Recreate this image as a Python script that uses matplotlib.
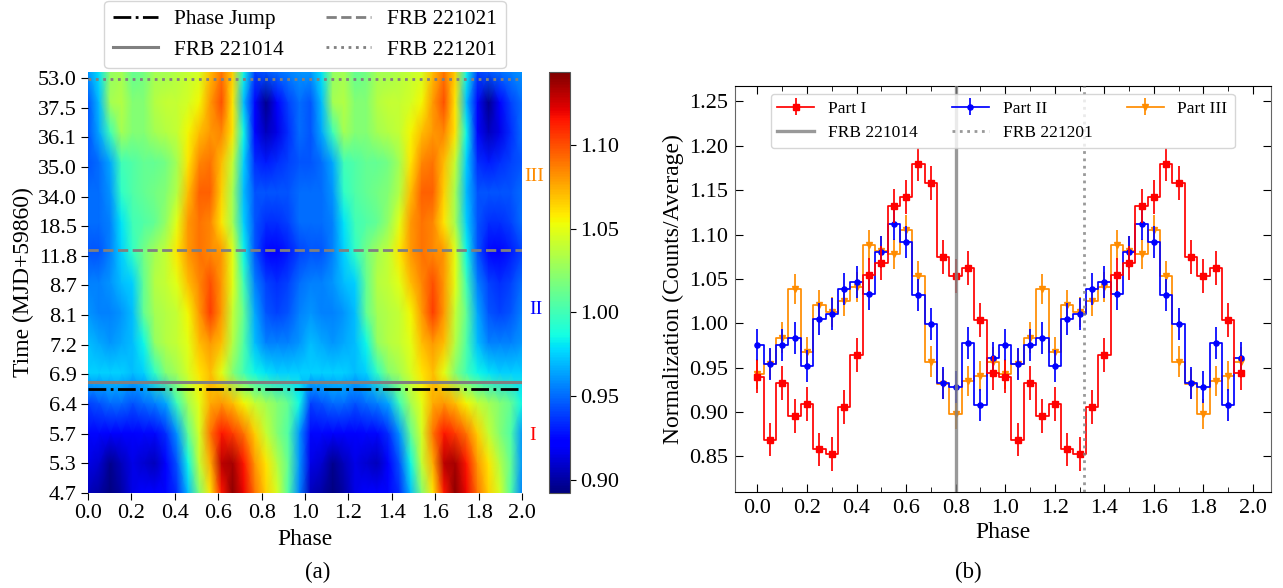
import numpy as np
import matplotlib
matplotlib.use('Agg')
import matplotlib.pyplot as plt

plt.rcParams['font.family'] = ['Liberation Serif', 'DejaVu Serif']

# Panel (a): one phase cycle per row, bottom row first
row_47 = [.905, .900, .892, .900, .915, .920, .920, .925, .935, .970, 1.020, 1.060, 1.115, 1.140, 1.120, 1.090, 1.065, 1.045, 1.005, .955]
row_53 = [.915, .910, .895, .905, .915, .910, .905, .920, .945, .985, 1.040, 1.075, 1.130, 1.135, 1.115, 1.080, 1.060, 1.035, 1.010, .960]
row_57 = [.925, .925, .920, .920, .920, .925, .925, .935, .960, 1.010, 1.045, 1.090, 1.115, 1.105, 1.090, 1.065, 1.040, 1.020, 1.005, .960]
row_64 = [.940, .945, .950, .950, .945, .950, .955, .965, 1.000, 1.030, 1.050, 1.075, 1.080, 1.070, 1.055, 1.040, 1.030, 1.020, 1.010, .985]
row_69 = [.975, .975, .975, .975, .970, .975, .995, 1.020, 1.030, 1.045, 1.060, 1.070, 1.050, 1.020, 1.000, .985, .980, .975, .975, .975]
row_72 = [.970, .965, .960, .965, .970, .985, 1.025, 1.035, 1.040, 1.050, 1.070, 1.080, 1.070, 1.035, 1.005, .970, .955, .955, .955, .960]
row_81 = [.960, .955, .955, .960, .970, 1.010, 1.030, 1.035, 1.040, 1.055, 1.080, 1.105, 1.080, 1.040, 1.010, .965, .945, .940, .945, .955]
row_87 = [.955, .955, .960, .970, .975, 1.010, 1.035, 1.040, 1.050, 1.070, 1.085, 1.100, 1.080, 1.050, 1.000, .955, .940, .935, .940, .950]
row_118 = [.945, .945, .955, .975, .995, 1.015, 1.030, 1.040, 1.060, 1.080, 1.090, 1.085, 1.080, 1.050, .985, .945, .925, .920, .930, .940]
row_185 = [.950, .950, .955, .980, 1.000, 1.005, 1.010, 1.025, 1.050, 1.080, 1.090, 1.085, 1.060, 1.030, .975, .945, .935, .935, .940, .950]
row_340 = [.950, .950, .960, .995, 1.005, 1.010, 1.015, 1.020, 1.035, 1.070, 1.095, 1.095, 1.065, 1.030, .970, .945, .945, .945, .945, .950]
row_350 = [.945, .950, .965, 1.000, 1.005, 1.010, 1.010, 1.015, 1.030, 1.060, 1.085, 1.090, 1.070, 1.040, .975, .935, .930, .935, .940, .945]
row_361 = [.945, .965, 1.000, 1.030, 1.020, 1.020, 1.030, 1.035, 1.040, 1.055, 1.070, 1.080, 1.085, 1.060, .985, .925, .905, .915, .935, .950]
row_375 = [.945, .970, 1.030, 1.035, 1.020, 1.020, 1.035, 1.040, 1.040, 1.045, 1.055, 1.080, 1.100, 1.060, .970, .925, .895, .920, .940, .950]
row_530 = [.960, .980, 1.025, 1.030, 1.010, 1.015, 1.030, 1.030, 1.035, 1.040, 1.045, 1.070, 1.090, 1.065, .985, .940, .945, .950, .955, .960]
time_labels = ['4.7', '5.3', '5.7', '6.4', '6.9', '7.2', '8.1', '8.7', '11.8',
               '18.5', '34.0', '35.0', '36.1', '37.5', '53.0']

# Panel (b): folded profiles, phase bins 0.00 to 0.95
phase = [0.00, 0.05, 0.10, 0.15, 0.20, 0.25, 0.30, 0.35, 0.40, 0.45,
         0.50, 0.55, 0.60, 0.65, 0.70, 0.75, 0.80, 0.85, 0.90, 0.95]
part1 = [.940, .869, .933, .896, .909, .858, .853, .906, .964, 1.055,
         1.068, 1.132, 1.142, 1.179, 1.158, 1.075, 1.053, 1.062, 1.004, .944]
part2 = [.976, .9545, .9756, .984, .952, 1.005, 1.011, 1.039, 1.047, 1.033,
         1.080, 1.112, 1.092, 1.032, .999, .933, .928, .978, .908, .961]
part3 = [.943, .954, .984, 1.039, .968, 1.021, 1.013, 1.025, 1.041, 1.088,
         1.081, 1.078, 1.105, 1.053, .957, .932, .898, .935, .941, .956]
err1 = 0.019
err2 = 0.018
err3 = 0.017

W, H = 1283, 588


def px_axes(x0, y0, x1, y1):
    # pixel box with y counted from the top of the image
    return fig.add_axes([x0 / W, 1 - y1 / H, (x1 - x0) / W, (y1 - y0) / H])


fig = plt.figure(figsize=(W / 100, H / 100), dpi=100)

# ----- panel (a)
ax1 = px_axes(88, 72, 522, 493)
cax = px_axes(549, 72, 570, 493)

cycle = np.array([row_47, row_53, row_57, row_64, row_69, row_72, row_81, row_87,
                  row_118, row_185, row_340, row_350, row_361, row_375, row_530])
heat = np.hstack([cycle, cycle])
ytop = 14.2
xx = np.linspace(0, 2, heat.shape[1])
yy = np.linspace(0, ytop, heat.shape[0])
mesh = ax1.pcolormesh(xx, yy, heat, cmap='jet', vmin=0.892, vmax=1.1436, shading='gouraud')

ax1.axhline(3.51, color='k', ls='-.', lw=2, label='Phase Jump')
ax1.axhline(3.75, color='gray', ls='-', lw=2.2, label='FRB 221014')
ax1.axhline(8.21, color='gray', ls='--', lw=2, label='FRB 221021')
ax1.axhline(13.98, color='gray', ls=':', lw=2, label='FRB 221201')

ax1.set_xlim(0, 2)
ax1.set_ylim(0, ytop)
ax1.set_xticks(np.arange(0, 2.01, 0.2))
ax1.set_yticks(range(len(time_labels)))
ax1.set_yticklabels(time_labels)
ax1.tick_params(labelsize=16, length=5, pad=3)
ax1.set_xlabel('Phase', fontsize=17, labelpad=4)
ax1.set_ylabel('Time (MJD+59860)', fontsize=17, labelpad=3)
for s in ax1.spines.values():
    s.set_visible(False)

fig.legend(*ax1.get_legend_handles_labels(), loc='center', ncol=2, fontsize=15.4,
           bbox_to_anchor=(305 / W, 1 - 34.5 / H), columnspacing=2.0, handlelength=2.1,
           handletextpad=0.75)

cbar = fig.colorbar(mesh, cax=cax)
cbar.set_ticks([0.90, 0.95, 1.00, 1.05, 1.10])
cbar.ax.set_yticklabels(['0.90', '0.95', '1.00', '1.05', '1.10'])
cbar.ax.tick_params(labelsize=16, length=4, pad=3)
cbar.outline.set_edgecolor('#555555')

fig.text(534 / W, 1 - 177 / H, 'III', color='darkorange', fontsize=14, ha='center', va='center')
fig.text(536 / W, 1 - 310 / H, 'II', color='blue', fontsize=14, ha='center', va='center')
fig.text(533 / W, 1 - 435 / H, 'I', color='red', fontsize=14, ha='center', va='center')

# ----- panel (b)
ax2 = px_axes(735, 85.5, 1270.5, 492)
x2 = np.concatenate([phase, np.array(phase) + 1])

ax2.errorbar(x2, part1 * 2, yerr=err1, fmt='-', drawstyle='steps-mid', color='red', marker='s',
             ms=4, lw=1.25, elinewidth=1.25, label='Part I', zorder=5)
ax2.errorbar(x2, part2 * 2, yerr=err2, fmt='-', drawstyle='steps-mid', color='blue', marker='o',
             ms=3.7, lw=1.25, elinewidth=1.25, label='Part II', zorder=4)
ax2.errorbar(x2, part3 * 2, yerr=err3, fmt='-', drawstyle='steps-mid', color='darkorange', marker='v',
             ms=3.7, lw=1.25, elinewidth=1.25, label='Part III', zorder=3)
ax2.axvline(0.80, color='gray', ls='-', lw=2.4, alpha=0.8, label='FRB 221014', zorder=6)
ax2.axvline(1.317, color='gray', ls=':', lw=2, alpha=0.8, label='FRB 221201', zorder=6)

ax2.set_xlim(-0.0905, 2.0705)
ax2.set_ylim(0.81, 1.268)
ax2.set_xticks(np.arange(0, 2.01, 0.2))
ax2.set_xticks(np.arange(0, 2.01, 0.1), minor=True)
ax2.set_yticks(np.arange(0.85, 1.251, 0.05))
ax2.tick_params(which='both', direction='in', top=True, right=True, labelsize=16, pad=5)
ax2.tick_params(which='major', length=6)
ax2.tick_params(which='minor', length=3.5)
ax2.set_xlabel('Phase', fontsize=17, labelpad=3)
ax2.set_ylabel('Normalization (Counts/Average)', fontsize=17, labelpad=4)
ax2.spines['left'].set_color('#666666')
ax2.spines['right'].set_color('#666666')

h, l = ax2.get_legend_handles_labels()
order = [l.index(n) for n in ['Part I', 'FRB 221014', 'Part II', 'FRB 221201', 'Part III']]
leg = ax2.legend([h[i] for i in order], [l[i] for i in order], ncol=3, fontsize=12.5,
                 loc='center', bbox_to_anchor=((1002.5 - 735) / 535.5, 1 - (121 - 85.5) / 406.5),
                 columnspacing=2.0, handlelength=2.1, handletextpad=0.8)
leg.set_zorder(10)

fig.text(318 / W, 1 - 572 / H, '(a)', fontsize=16.5, ha='center', va='center')
fig.text(968 / W, 1 - 572 / H, '(b)', fontsize=16.5, ha='center', va='center')

fig.savefig('out.png', dpi=100)
